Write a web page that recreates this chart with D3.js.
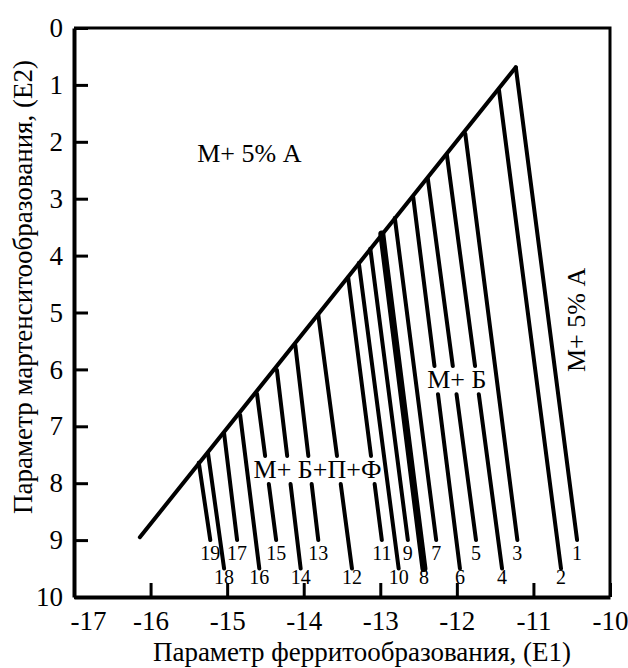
<!DOCTYPE html>
<html>
<head>
<meta charset="utf-8">
<script src="https://cdnjs.cloudflare.com/ajax/libs/d3/7.8.5/d3.min.js"></script>
<style>
  body { margin: 0; background: #fff; }
  svg text { font-family: "Liberation Serif", "Times New Roman", serif !important; fill: #000; }
</style>
</head>
<body>
<div id="chart"></div>
<script>
// SVG area
var svgWidth = 628;
var svgHeight = 668;

var margin = { top: 28, right: 18, bottom: 71, left: 74 };
var width = svgWidth - margin.left - margin.right;
var height = svgHeight - margin.top - margin.bottom;

// ---- data (E1 = ferrite parameter, E2 = martensite parameter)
var lineNumbers = [1, 2, 3, 4, 5, 6, 7, 8, 9, 10, 11, 12, 13, 14, 15, 16, 17, 18, 19];
var topE1 = [-11.23, -11.45, -11.89, -12.13, -12.38, -12.57, -12.81, -12.98, -13.13, -13.28,
             -13.42, -13.81, -14.11, -14.35, -14.61, -14.83, -15.04, -15.25, -15.37];
var topE2 = [0.69, 1.09, 1.86, 2.23, 2.64, 2.97, 3.34, 3.62, 3.88, 4.13,
             4.38, 5.04, 5.57, 6.01, 6.43, 6.80, 7.12, 7.47, 7.64];
var endE1 = [-10.43, -10.64, -11.21, -11.41, -11.75, -11.96, -12.27, -12.43, -12.64, -12.76,
             -12.98, -13.37, -13.81, -14.04, -14.36, -14.58, -14.87, -15.04, -15.22];
var endE2 = [9.0, 9.5, 9.0, 9.5, 9.0, 9.5, 9.0, 9.5, 9.0, 9.5,
             9.0, 9.5, 9.0, 9.5, 9.0, 9.5, 9.0, 9.5, 9.0];

// upper-left edge of the region, ends at the apex of line 1
var edgeE1 = [-16.14, -11.23];
var edgeE2 = [8.95, 0.69];

var xTicks = [-17, -16, -15, -14, -13, -12, -11, -10];
var yTicks = [0, 1, 2, 3, 4, 5, 6, 7, 8, 9, 10];

var regionNames = ["М+ 5% А", "М+ Б+П+Ф", "М+ Б", "М+ 5% А"];
var regionE1 = [-14.71, -13.82, -12.0, -10.33];
var regionE2 = [2.36, 7.91, 6.33, 5.13];

var xTitle = "Параметр ферритообразования, (E1)";
var yTitle = "Параметр мартенситообразования, (E2)";

var serif = "'Liberation Serif', 'Times New Roman', serif";

// ---- svg
var svg = d3.select("#chart")
  .append("svg")
  .attr("width", svgWidth)
  .attr("height", svgHeight);

var chartGroup = svg.append("g")
  .attr("transform", `translate(${margin.left}, ${margin.top})`);

var xScale = d3.scaleLinear().domain([-17, -10]).range([0, width]);
var yScale = d3.scaleLinear().domain([0, 10]).range([0, height]);

// ---- frame (top / right thinner)
chartGroup.append("path")
  .attr("d", `M0,0H${width}V${height}`)
  .attr("fill", "none")
  .attr("stroke", "#000")
  .attr("stroke-width", 3);

// ---- axes, ticks pointing inwards
var bottomAxis = d3.axisBottom(xScale)
  .tickValues(xTicks)
  .tickFormat(d3.format("d"))
  .tickSizeInner(-14)
  .tickSizeOuter(0)
  .tickPadding(14);

var leftAxis = d3.axisLeft(yScale)
  .tickValues(yTicks)
  .tickFormat(d3.format("d"))
  .tickSizeInner(-14)
  .tickSizeOuter(0)
  .tickPadding(11);

var xAxis = chartGroup.append("g")
  .attr("transform", `translate(0, ${height})`)
  .call(bottomAxis);

var yAxis = chartGroup.append("g")
  .call(leftAxis);

[xAxis, yAxis].forEach(function(ax) {
  ax.attr("font-family", serif).attr("font-size", 27);
  ax.select(".domain").attr("stroke-width", 4).attr("stroke", "#000");
  ax.selectAll(".tick line").attr("stroke-width", 3).attr("stroke", "#000");
  ax.selectAll(".tick text")
    .style("font-family", serif)
    .attr("fill", "#000")
    .text(d => d < 0 ? "-" + Math.abs(d) : d);
});
// first x label is pushed right of the corner
xAxis.selectAll(".tick text").filter(d => d === -17).attr("dx", 14);

// ---- region labels
var labelSize = 26;
var regionLabels = chartGroup.selectAll(".region")
  .data(regionNames)
  .enter()
  .append("text")
  .attr("class", "region")
  .style("font-family", serif)
  .attr("font-size", labelSize)
  .attr("text-anchor", "middle")
  .attr("transform", function(d, i) {
    var px = xScale(regionE1[i]), py = yScale(regionE2[i]);
    return i === 3 ? `translate(${px}, ${py}) rotate(-90)` : `translate(${px}, ${py})`;
  })
  .text(d => d);

// white gaps cut into hatch lines by the two middle labels
var gaps = [];
regionLabels.each(function(d, i) {
  if (i !== 1 && i !== 2) return;
  var bb = this.getBBox();
  var px = xScale(regionE1[i]), py = yScale(regionE2[i]);
  gaps.push({
    x0: px + bb.x - 4,
    x1: px + bb.x + bb.width + 4,
    y0: py - labelSize * 0.66 - 3,
    y1: py + 4
  });
});

// ---- hatch lines
var segments = [];
lineNumbers.forEach(function(n, i) {
  var x1 = xScale(topE1[i]), y1 = yScale(topE2[i]);
  var x2 = xScale(endE1[i]), y2 = yScale(endE2[i]);
  var xAt = y => x1 + (x2 - x1) * (y - y1) / (y2 - y1);
  var cut = null;
  gaps.forEach(function(g) {
    var ym = (g.y0 + g.y1) / 2;
    var xm = xAt(ym);
    if (xm > g.x0 && xm < g.x1 && ym > y1 && ym < y2) cut = g;
  });
  if (cut) {
    var ya = cut.y0 - 2, yb = cut.y1 + 2;
    segments.push({ n: n, pts: [[x1, y1], [xAt(ya), ya]] });
    segments.push({ n: n, pts: [[xAt(yb), yb], [x2, y2]] });
  } else {
    segments.push({ n: n, pts: [[x1, y1], [x2, y2]] });
  }
});

var line = d3.line();

chartGroup.selectAll(".hatch")
  .data(segments)
  .enter()
  .append("path")
  .attr("class", "hatch")
  .attr("d", d => line(d.pts))
  .attr("fill", "none")
  .attr("stroke", "#000")
  .attr("stroke-width", d => d.n === 8 ? 7 : 4)
  .attr("stroke-linecap", "round");

// upper-left edge
chartGroup.append("path")
  .attr("d", line(edgeE1.map((e, i) => [xScale(e), yScale(edgeE2[i])])))
  .attr("fill", "none")
  .attr("stroke", "#000")
  .attr("stroke-width", 4)
  .attr("stroke-linecap", "round");

// ---- line numbers
chartGroup.selectAll(".num")
  .data(lineNumbers)
  .enter()
  .append("text")
  .attr("class", "num")
  .style("font-family", serif)
  .attr("font-size", 20)
  .attr("text-anchor", "middle")
  .attr("x", (d, i) => xScale(endE1[i]))
  .attr("y", (d, i) => yScale(endE2[i]) + (d % 2 ? 20 : 15))
  .text(d => d);

// ---- axis titles
chartGroup.append("text")
  .style("font-family", serif)
  .attr("font-size", 27)
  .attr("text-anchor", "middle")
  .attr("x", 288)
  .attr("y", height + 64)
  .text(xTitle);

chartGroup.append("text")
  .style("font-family", serif)
  .attr("font-size", 27)
  .attr("text-anchor", "middle")
  .attr("transform", `translate(-42, 259) rotate(-90)`)
  .text(yTitle);
</script>
</body>
</html>
